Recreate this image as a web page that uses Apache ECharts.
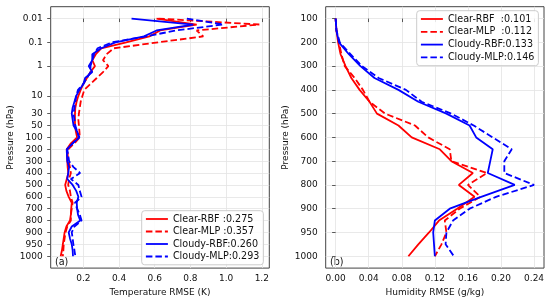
<!DOCTYPE html>
<html>
<head>
<meta charset="utf-8">
<script src="https://cdn.jsdelivr.net/npm/echarts@6/dist/echarts.min.js"></script>
<style>html,body{margin:0;padding:0;background:#fff}#c{width:550px;height:302px}</style>
</head>
<body>
<div id="c"></div>
<script>
// ---------- Panel (a): temperature ----------
const tLevels = ['0.01','0.02','0.03','0.05','0.1','0.2','0.3','0.5','1','2','3','5','7','10','15','20','30','40','50','70','100','150','200','250','300','350','400','450','500','550','600','650','700','750','800','850','900','925','950','975','1000'];
const tTickLabels = ['0.01','0.1','1','10','30','50','100','200','300','400','500','600','700','800','900','950','1000'];
const tXTicks = [0.2, 0.4, 0.6, 0.8, 1.0, 1.2];
const clearRbfT   = [0.61,0.835,0.63,0.57,0.44,0.30,0.27,0.25,0.265,0.24,0.22,0.20,0.185,0.172,0.162,0.155,0.153,0.153,0.153,0.158,0.165,0.13,0.107,0.108,0.11,0.112,0.116,0.107,0.098,0.105,0.118,0.135,0.132,0.13,0.125,0.105,0.095,0.09,0.085,0.08,0.073];
const clearMlpT   = [0.62,1.186,0.835,0.872,0.62,0.37,0.33,0.31,0.34,0.31,0.275,0.24,0.205,0.195,0.185,0.18,0.175,0.172,0.175,0.178,0.18,0.15,0.115,0.112,0.118,0.125,0.13,0.12,0.115,0.125,0.13,0.14,0.135,0.13,0.13,0.11,0.10,0.095,0.09,0.088,0.085];
const cloudyRbfT  = [0.47,0.816,0.61,0.54,0.38,0.30,0.25,0.25,0.23,0.25,0.21,0.20,0.178,0.16,0.15,0.14,0.135,0.14,0.145,0.165,0.178,0.14,0.107,0.108,0.11,0.12,0.115,0.11,0.14,0.16,0.172,0.163,0.165,0.17,0.183,0.135,0.118,0.125,0.135,0.14,0.142];
const cloudyMlpT  = [0.78,0.984,0.72,0.55,0.36,0.28,0.26,0.25,0.24,0.24,0.22,0.20,0.17,0.16,0.155,0.15,0.145,0.15,0.155,0.165,0.175,0.14,0.11,0.115,0.12,0.145,0.182,0.13,0.172,0.18,0.19,0.153,0.165,0.18,0.19,0.15,0.135,0.14,0.144,0.15,0.155];
const tScores = ['Clear-RBF :0.275','Clear-MLP :0.357','Cloudy-RBF:0.260','Cloudy-MLP:0.293'];

// ---------- Panel (b): humidity ----------
const qLevels = ['100','150','200','250','300','350','400','450','500','550','600','650','700','750','800','850','900','925','950','975','1000'];
const qTickLabels = ['100','200','300','400','500','600','700','800','900','950','1000'];
const qXTicks = [0.00, 0.04, 0.08, 0.12, 0.16, 0.20, 0.24];
const clearRbfQ   = [0.000,0.001,0.003,0.006,0.012,0.019,0.029,0.041,0.050,0.076,0.092,0.126,0.140,0.166,0.149,0.168,0.147,0.125,0.113,0.100,0.088];
const clearMlpQ   = [0.000,0.001,0.004,0.007,0.011,0.023,0.033,0.041,0.060,0.096,0.112,0.138,0.140,0.183,0.160,0.175,0.150,0.132,0.134,0.128,0.120];
const cloudyRbfQ  = [0.000,0.001,0.004,0.016,0.030,0.047,0.076,0.100,0.134,0.162,0.170,0.190,0.187,0.184,0.2166,0.176,0.138,0.120,0.118,0.119,0.120];
const cloudyMlpQ  = [0.000,0.001,0.005,0.018,0.032,0.052,0.085,0.104,0.140,0.167,0.190,0.213,0.204,0.204,0.240,0.194,0.162,0.142,0.134,0.133,0.143];
const qScores = ['Clear-RBF  :0.101','Clear-MLP  :0.112','Cloudy-RBF:0.133','Cloudy-MLP:0.146'];

const FONT = 'DejaVu Sans';
const RED = '#ff0000', BLUE = '#0000ff';
const DASH = [6.5, 3];

function yAxisFor(levels, ticks, gridIndex, pad) {
  const idx = ticks.map(t => levels.indexOf(t));
  return {
    type: 'value', gridIndex: gridIndex, inverse: true,
    min: -pad, max: levels.length - 1 + pad,
    name: 'Pressure (hPa)', nameLocation: 'middle', nameGap: 36,
    nameTextStyle: {fontFamily: FONT, fontSize: 9, color: '#111'},
    axisLine: {show: false},
    axisTick: {show: true, length: 3.5, inside: false, customValues: idx, lineStyle: {color: '#333', width: 0.8}},
    axisLabel: {customValues: idx, margin: 8, fontFamily: FONT, fontSize: 9, color: '#111',
      formatter: v => levels[Math.round(v)]},
    splitLine: {show: true, lineStyle: {color: '#e3e3e3', width: 0.8}}
  };
}
function xAxisFor(name, min, max, ticks, digits, gridIndex) {
  return {
    type: 'value', gridIndex: gridIndex, min: min, max: max,
    name: name, nameLocation: 'middle', nameGap: 19,
    nameTextStyle: {fontFamily: FONT, fontSize: 9, color: '#111'},
    axisLine: {show: false},
    axisTick: {show: true, length: 3.5, customValues: ticks, lineStyle: {color: '#333', width: 0.8}},
    axisLabel: {customValues: ticks, margin: 6, fontFamily: FONT, fontSize: 9, color: '#111',
      formatter: v => v.toFixed(digits)},
    splitLine: {show: true, lineStyle: {color: '#e3e3e3', width: 0.8}}
  };
}
function mk(name, vals, color, dashed, gi) {
  return {
    type: 'line', name: name, xAxisIndex: gi, yAxisIndex: gi,
    data: vals.map((v, i) => [v, i]),
    symbol: 'none', silent: true, animation: false,
    lineStyle: {color: color, width: 1.8, type: dashed ? DASH : 'solid'},
    itemStyle: {color: color}
  };
}
function legendFor(names, left, top, gap) {
  return {
    data: names, orient: 'vertical', left: left, top: top, itemWidth: 22, itemHeight: 10, itemGap: gap,
    padding: [3.3, 4, 3.3, 3.3], backgroundColor: 'rgba(255,255,255,0.85)', borderColor: '#cccccc', borderWidth: 1, borderRadius: 3,
    itemStyle: {color: 'rgba(0,0,0,0)', borderColor: 'rgba(0,0,0,0)', borderWidth: 0, opacity: 0},
    lineStyle: {width: 1.8},
    textStyle: {fontFamily: FONT, fontSize: 9.6, color: '#111'}, selectedMode: false
  };
}

const chart = echarts.init(document.getElementById('c'), null, {renderer: 'canvas'});
chart.setOption({
  animation: false,
  backgroundColor: '#fff',
  grid: [
    {left: 50.7, top: 6.7, width: 218.6, height: 261.6, show: true, borderColor: '#444', borderWidth: 1, backgroundColor: 'transparent'},
    {left: 325.7, top: 6.7, width: 218.3, height: 261.6, show: true, borderColor: '#444', borderWidth: 1, backgroundColor: 'transparent'}
  ],
  xAxis: [
    xAxisFor('Temperature RMSE (K)', 0.017, 1.242, tXTicks, 1, 0),
    xAxisFor('Humidity RMSE (g/kg)', -0.012, 0.252, qXTicks, 2, 1)
  ],
  yAxis: [
    yAxisFor(tLevels, tTickLabels, 0, 2),
    yAxisFor(qLevels, qTickLabels, 1, 1)
  ],
  legend: [
    legendFor(tScores, 141.7, 210.7, 2.5),
    legendFor(qScores, 416.7, 10.7, 2.8)
  ],
  graphic: [
    {type: 'text', left: 55, top: 257, style: {text: '(a)', font: '9.6px "DejaVu Sans"', fill: '#111'}},
    {type: 'text', left: 330, top: 257, style: {text: '(b)', font: '9.6px "DejaVu Sans"', fill: '#111'}}
  ],
  series: [
    mk(tScores[0], clearRbfT, RED, false, 0),
    mk(tScores[1], clearMlpT, RED, true, 0),
    mk(tScores[2], cloudyRbfT, BLUE, false, 0),
    mk(tScores[3], cloudyMlpT, BLUE, true, 0),
    mk(qScores[0], clearRbfQ, RED, false, 1),
    mk(qScores[1], clearMlpQ, RED, true, 1),
    mk(qScores[2], cloudyRbfQ, BLUE, false, 1),
    mk(qScores[3], cloudyMlpQ, BLUE, true, 1)
  ]
});
</script>
</body>
</html>
